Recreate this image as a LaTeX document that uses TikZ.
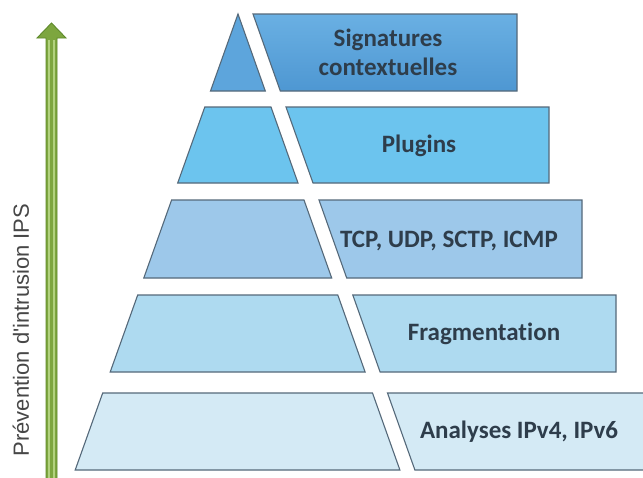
\documentclass[tikz,border=0pt]{standalone}
\usepackage{fontspec}
\setmainfont[Ligatures={NoCommon}]{Carlito}
\newfontfamily\arialfont{Liberation Sans}
\begin{document}
\begin{tikzpicture}[x=1pt,y=-1pt,
  layerbox/.style={draw=edgecol, line width=1.1pt, line join=miter},
  label/.style={font=\bfseries\fontsize{25}{29}\selectfont, text=textcol, align=center, inner sep=0pt}]
\definecolor{edgecol}{HTML}{55697A}
\definecolor{textcol}{HTML}{2E3D4B}
\definecolor{cA}{HTML}{5DA5DC}
\definecolor{cAt}{HTML}{6AB0E3}
\definecolor{cAb}{HTML}{4E97D2}
\definecolor{cB}{HTML}{6CC4EE}
\definecolor{cC}{HTML}{9DC8EA}
\definecolor{cD}{HTML}{AEDAF0}
\definecolor{cE}{HTML}{D4EAF5}
\definecolor{gfill}{HTML}{7DA63F}
\definecolor{gdark}{HTML}{5E8A2A}
\definecolor{glight}{HTML}{B2D27E}
\useasboundingbox (0,0) rectangle (643,477);
\clip (0,0) rectangle (643,477);
\fill[white] (0,0) rectangle (643,477);
% green arrow
\draw[gdark, fill=gfill, line width=0.9pt, line join=miter]
  (46,490) -- (46,38) -- (37,38) -- (51.5,23) -- (66,38) -- (57,38) -- (57,490) -- cycle;
\draw[glight, line width=1.4pt] (49,490) -- (49,40);
\draw[glight, line width=1.4pt] (54,490) -- (54,40);
\node[font=\arialfont\fontsize{22}{25}\selectfont, text=black!72, rotate=90, inner sep=0pt] (axis) at (21,330) {Prévention d'intrusion IPS};
% layer 1
\path[layerbox, fill=cA] (238,14) -- (265.3,91) -- (210.5,91) -- cycle;
\path[layerbox, top color=cAt, bottom color=cAb] (253,14) -- (517,14) -- (517,91) -- (280.3,91) -- cycle;
% layer 2
\path[layerbox, fill=cB] (204.8,107) -- (271.0,107) -- (298.0,183) -- (177.7,183) -- cycle;
\path[layerbox, fill=cB] (286.0,107) -- (549,107) -- (549,183) -- (313.0,183) -- cycle;
% layer 3
\path[layerbox, fill=cC] (171.6,200) -- (304.0,200) -- (331.7,278) -- (143.8,278) -- cycle;
\path[layerbox, fill=cC] (319.0,200) -- (582,200) -- (582,278) -- (346.7,278) -- cycle;
% layer 4
\path[layerbox, fill=cD] (137.7,295) -- (337.8,295) -- (365.1,372) -- (110.2,372) -- cycle;
\path[layerbox, fill=cD] (352.8,295) -- (616,295) -- (616,372) -- (380.1,372) -- cycle;
% layer 5
\path[layerbox, fill=cE] (102.7,393) -- (372.5,393) -- (399.9,470) -- (75.2,470) -- cycle;
\path[layerbox, fill=cE] (387.5,393) -- (660,393) -- (660,470) -- (414.9,470) -- cycle;
% labels
\node[label] (l1) at (388,52) {Signatures\\contextuelles};
\node[label] (l2) at (419,146) {Plugins};
\node[label] (l3) at (449,241) {TCP, UDP, SCTP, ICMP};
\node[label] (l4) at (484,334) {Fragmentation};
\node[label] (l5) at (519,432) {Analyses IPv4, IPv6};
\end{tikzpicture}
\end{document}
